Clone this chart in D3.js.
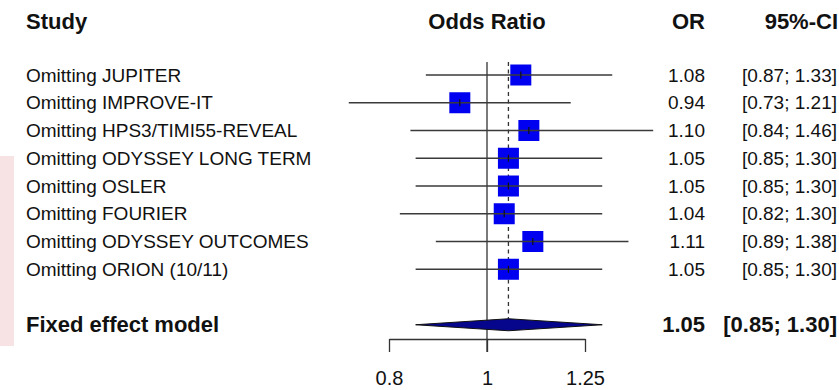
<!DOCTYPE html>
<html>
<head>
<meta charset="utf-8">
<script src="https://d3js.org/d3.v7.min.js"></script>
<style>
  body { margin: 0; background: #fff; }
  svg text { font-family: "Liberation Sans", Arial, sans-serif; fill: #111; }
</style>
</head>
<body>
<svg id="chart" width="839" height="390"></svg>
<script>
// Leave-one-out forest plot (odds ratios, fixed effect model).
var studies = [
  'Omitting JUPITER',
  'Omitting IMPROVE-IT',
  'Omitting HPS3/TIMI55-REVEAL',
  'Omitting ODYSSEY LONG TERM',
  'Omitting OSLER',
  'Omitting FOURIER',
  'Omitting ODYSSEY OUTCOMES',
  'Omitting ORION (10/11)'
];
var orValues = [1.08, 0.94, 1.10, 1.05, 1.05, 1.04, 1.11, 1.05];
var ciLower  = [0.87, 0.73, 0.84, 0.85, 0.85, 0.82, 0.89, 0.85];
var ciUpper  = [1.33, 1.21, 1.46, 1.30, 1.30, 1.30, 1.38, 1.30];

var pooledLabel = 'Fixed effect model';
var pooled = { or: 1.05, lower: 0.85, upper: 1.30 };

var tickValues = [0.8, 1, 1.25];
var tickLabels = ['0.8', '1', '1.25'];

var svg = d3.select('#chart');
var fmt = d3.format('.2f');
function ciText(lo, hi) { return '[' + fmt(lo) + '; ' + fmt(hi) + ']'; }

// log scale for the odds ratio
var x = d3.scaleLog()
  .domain([0.8, 1.25])
  .range([389, 585]);

// rows: 2 header rows, the studies, a gap, then the pooled row
var y = d3.scaleLinear()
  .domain([0, 1])
  .range([75, 102.75]);
var pooledY = y(studies.length + 1);
var axisY = 339;

// column anchors
var labelX = 26, orX = 705, ciX = 837;

// faint pink watermark at the left edge of the original
svg.append('rect')
  .attr('x', 0).attr('y', 156)
  .attr('width', 14).attr('height', 190)
  .attr('fill', '#f7e3e3');

// headers
var hy = 29;
svg.append('text').attr('x', labelX).attr('y', hy)
  .attr('font-size', 22).attr('font-weight', 'bold').text('Study');
svg.append('text').attr('x', x(1)).attr('y', hy).attr('text-anchor', 'middle')
  .attr('font-size', 22).attr('font-weight', 'bold').text('Odds Ratio');
svg.append('text').attr('x', orX).attr('y', hy).attr('text-anchor', 'end')
  .attr('font-size', 22).attr('font-weight', 'bold').text('OR');
svg.append('text').attr('x', 838).attr('y', hy).attr('text-anchor', 'end')
  .attr('font-size', 22).attr('font-weight', 'bold').text('95%-CI');

// reference line at OR = 1
svg.append('line')
  .attr('x1', x(1)).attr('x2', x(1))
  .attr('y1', 62).attr('y2', axisY + 13)
  .attr('stroke', '#333').attr('stroke-width', 1.3);

// dashed line at the pooled estimate
svg.append('line')
  .attr('x1', x(pooled.or)).attr('x2', x(pooled.or))
  .attr('y1', 62).attr('y2', pooledY - 6)
  .attr('stroke', '#333').attr('stroke-width', 1.3)
  .attr('stroke-dasharray', '4,3.5');

// study rows
var rows = svg.append('g').selectAll('g')
  .data(studies)
  .enter().append('g')
    .attr('transform', function(d, i) { return 'translate(0,' + y(i) + ')'; });

rows.append('text')
  .attr('x', labelX).attr('y', 6.5)
  .attr('font-size', 19)
  .text(function(d) { return d; });

var sq = 21;
rows.append('rect')
  .attr('x', function(d, i) { return x(orValues[i]) - sq / 2; })
  .attr('y', -sq / 2)
  .attr('width', sq).attr('height', sq)
  .attr('fill', '#0000f0');

rows.append('line')
  .attr('x1', function(d, i) { return x(ciLower[i]); })
  .attr('x2', function(d, i) { return x(ciUpper[i]); })
  .attr('y1', 0).attr('y2', 0)
  .attr('stroke', '#3a3a3a').attr('stroke-width', 1.3);

rows.append('line')
  .attr('x1', function(d, i) { return x(orValues[i]); })
  .attr('x2', function(d, i) { return x(orValues[i]); })
  .attr('y1', -3.5).attr('y2', 3.5)
  .attr('stroke', '#111').attr('stroke-width', 1.2);

rows.append('text')
  .attr('x', orX).attr('y', 6.5)
  .attr('text-anchor', 'end')
  .attr('font-size', 19)
  .text(function(d, i) { return fmt(orValues[i]); });

rows.append('text')
  .attr('x', ciX).attr('y', 6.5)
  .attr('text-anchor', 'end')
  .attr('font-size', 19)
  .text(function(d, i) { return ciText(ciLower[i], ciUpper[i]); });

// pooled row
svg.append('text')
  .attr('x', labelX).attr('y', pooledY + 7.5)
  .attr('font-size', 22).attr('font-weight', 'bold')
  .text(pooledLabel);

var dh = 6;
svg.append('path')
  .attr('d', 'M' + x(pooled.lower) + ',' + pooledY +
             'L' + x(pooled.or) + ',' + (pooledY - dh) +
             'L' + x(pooled.upper) + ',' + pooledY +
             'L' + x(pooled.or) + ',' + (pooledY + dh) + 'Z')
  .attr('fill', '#06068c')
  .attr('stroke', '#111').attr('stroke-width', 1);

svg.append('text')
  .attr('x', orX).attr('y', pooledY + 7.5)
  .attr('text-anchor', 'end')
  .attr('font-size', 22).attr('font-weight', 'bold')
  .text(fmt(pooled.or));

svg.append('text')
  .attr('x', ciX).attr('y', pooledY + 7.5)
  .attr('text-anchor', 'end')
  .attr('font-size', 22).attr('font-weight', 'bold')
  .text(ciText(pooled.lower, pooled.upper));

// bottom axis (bracket style)
var axis = svg.append('g')
  .attr('transform', 'translate(0,' + axisY + ')')
  .call(d3.axisBottom(x)
    .tickValues(tickValues)
    .tickSize(13)
    .tickSizeOuter(0)
    .tickPadding(19)
    .tickFormat(function(d, i) { return tickLabels[i]; }));

axis.select('.domain')
  .attr('stroke', '#333').attr('stroke-width', 1.3);
axis.selectAll('.tick line')
  .attr('stroke', '#333').attr('stroke-width', 1.3);
axis.selectAll('.tick text')
  .attr('font-family', '"Liberation Sans", Arial, sans-serif')
  .attr('font-size', 20)
  .attr('fill', '#111');
</script>
</body>
</html>
